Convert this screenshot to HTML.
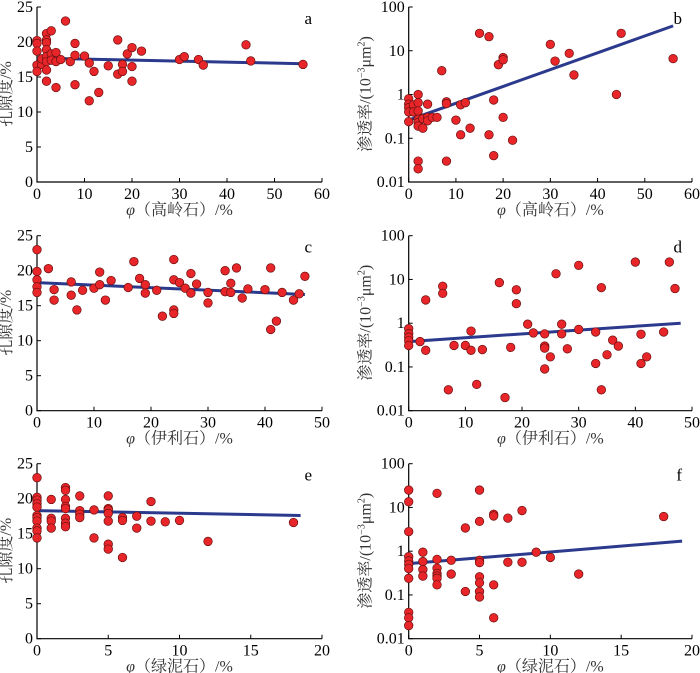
<!DOCTYPE html>
<html><head><meta charset="utf-8"><style>
body{margin:0;background:#fff;}
svg{display:block;font-family:"Liberation Serif","Noto Serif CJK SC",serif;}
</style></head><body>
<svg id="chart" width="700" height="673" viewBox="0 0 700 673"></svg>
<script>
const aX=[0,0,0,0,0,1,1,2,2,2,2,2,2,2,2,3,3,3,4,4,4,5,6,7,8,8,8,10,11,11,12,13,15,17,17,18,18,19,20,20,20,22,30,31,34,35,44,45,56];
const aY=[20.2,19.8,18.7,16.7,15.8,16.8,17.6,21.2,20.3,19.9,18.9,17.9,17.2,16,14.4,21.6,18.3,17.4,18.5,17.2,13.5,17.5,23,17.2,19.8,18.1,13.9,18,17,11.6,15.8,12.8,16.6,20.3,15.4,16.8,15.8,18.3,19.2,16.5,14.4,18.7,17.5,17.9,17.5,16.7,19.6,17.3,16.8];
const aFit=[[0,17.7],[56,16.9]];
const bX=[0,0,0,0,0,1,1,2,2,2,2,2,2,2,2,3,3,4,4,4,5,6,7,8,8,8,10,11,11,12,13,15,17,17,18,18,19,20,20,20,22,30,31,34,35,44,45,56];
const bY=[0.8,0.6,0.5,0.4,0.24,0.58,0.4,1.0,0.65,0.42,0.27,0.23,0.19,0.03,0.02,0.28,0.17,0.6,0.3,0.25,0.3,0.3,3.5,0.68,0.62,0.03,0.26,0.58,0.12,0.65,0.17,25,21,0.12,0.75,0.04,4.8,7,6.2,0.3,0.09,14,5.8,8.7,2.8,1.0,25,6.6];
const bFit=[[0,0.26],[56,37]];
const cX=[0,0,0,0,0,2,3,3,6,6,7,8,10,11,11,12,13,16,17,18,19,19,21,22,24,24,24,24,25,26,27,27,28,30,30,33,33,34,34,35,36,37,40,41,41,42,43,45,46,47];
const cY=[23,19.9,18.7,17.7,16.9,20.3,17.3,15.8,18.4,16.5,14.4,17.2,17.5,19.8,18,15.8,18.6,17.6,21.3,18.9,18,16.8,17.2,13.5,21.6,18.7,14.4,13.9,18.3,17.5,19.6,16.8,18.1,16.9,15.4,20,17,18.2,16.9,20.4,16.1,17.4,17.3,20.4,11.6,12.8,16.9,15.8,16.7,19.2];
const cFit=[[0,18.3],[47,16.6]];
const dX=[0,0,0,0,0,2,3,3,6,6,7,8,10,11,11,12,13,16,17,18,19,19,21,22,24,24,24,24,25,26,27,27,28,30,30,33,33,34,34,35,36,37,40,41,41,42,45,46,47];
const dY=[0.75,0.58,0.48,0.4,0.31,0.38,3.4,0.24,7,4.8,0.03,0.31,0.31,0.66,0.24,0.04,0.25,8.5,0.02,0.28,5.8,2.8,0.95,0.6,0.57,0.3,0.27,0.09,0.17,13.5,0.95,0.57,0.26,21,0.72,0.63,0.12,6.5,0.03,0.19,0.41,0.3,25,0.56,0.12,0.17,0.63,25,6.2];
const dFit=[[0,0.38],[48,1.0]];
const eX=[0,0,0,0,0,0,0,0,0,0,0,1,1,1,1,2,2,2,2,2,2,2,2,3,3,3,3,4,4,5,5,5,5,5,5,5,6,6,6,7,7,8,8,9,10,12,18];
const eY=[23,20.2,19.8,19.3,18.8,17.6,17.3,16.8,15.8,15.4,14.4,19.9,17.2,16.8,15.8,21.6,21.2,19.9,18.9,18.6,17.2,16.5,16,20.4,18.3,17.8,17.3,18.4,14.4,20.4,18.6,18.4,17.9,16.8,13.5,12.8,17.3,16.9,11.6,17.5,15.8,19.6,16.8,16.7,16.9,13.9,16.6];
const eFit=[[0,18.3],[18.5,17.6]];
const fX=[0,0,0,0,0,0,0,0,0,0,0,1,1,1,1,2,2,2,2,2,2,2,3,3,4,4,5,5,5,5,5,5,5,5,6,6,6,6,7,7,8,8,9,10,12,18];
const fY=[25,13.5,2.8,0.75,0.6,0.5,0.4,0.24,0.04,0.03,0.02,0.95,0.58,0.38,0.27,21,0.65,0.41,0.31,0.27,0.24,0.17,0.62,0.3,3.4,0.12,25,4.8,0.62,0.55,0.26,0.19,0.12,0.09,7,6.4,0.17,0.03,5.7,0.56,8.5,0.56,0.95,0.72,0.3,6.2];
const fFit=[[0,0.52],[19.3,1.7]];
const linTicks=["0","5","10","15","20","25"];
const logTicks=["0.01","0.1","1","10","100"];
const xTicks60=["0","10","20","30","40","50","60"];
const xTicks50=["0","10","20","30","40","50"];
const xTicks20=["0","5","10","15","20"];

const NS="http://www.w3.org/2000/svg";
const svg=document.getElementById('chart');
function mk(tag,attrs,parent){const e=document.createElementNS(NS,tag);for(const k in attrs)e.setAttribute(k,attrs[k]);(parent||svg).appendChild(e);return e;}

function panel(p){
  const g=mk('g',{});
  
  
  const xmax=+p.xt[p.xt.length-1];
  const sx=v=>p.x0+v/xmax*p.w;
  const sy=p.log?(v=>p.y0-(Math.log10(v)+2)/4*175):(v=>p.y0-v/25*175);
  const ax=mk('path',{d:`M${p.x0},${p.y0-175}V${p.y0}H${p.x0+p.w}`,stroke:'#000','stroke-width':1.2,fill:'none'},g);
  
  
  p.xt.forEach(t=>{const x=sx(+t);
    mk('line',{x1:x,x2:x,y1:p.y0,y2:p.y0-4,stroke:'#000'},g);
    const tx=mk('text',{x:x,y:p.y0+17,'text-anchor':'middle','font-size':16},g);tx.textContent=t;
    
    });
  p.yt.forEach(t=>{const y=sy(+t);
    mk('line',{x1:p.x0,x2:p.x0+4,y1:y,y2:y,stroke:'#000'},g);
    const tx=mk('text',{x:p.x0-4,y:y+5,'text-anchor':'end','font-size':16},g);tx.textContent=t;
    
    });
  const f=p.fit;
  const ln=mk('line',{x1:sx(f[0][0]),y1:sy(f[0][1]),x2:sx(f[1][0]),y2:sy(f[1][1]),stroke:'#2b3a8c','stroke-width':3},g);
  
  
  p.xs.forEach((v,i)=>{const c=mk('circle',{cx:sx(v),cy:sy(p.ys[i]),r:4.3,fill:'#e8262a',stroke:'#6a1010','stroke-width':0.7},g);
    
    });
  const lt=mk('text',{x:p.x0+p.w-10,y:p.y0-158,'font-size':17,'text-anchor':'end'},g);lt.textContent=p.letter;
  
  
  const xt=mk('text',{x:p.x0+p.w/2,y:p.y0+33,'text-anchor':'middle','font-size':16,fill:'#333'},g);
  xt.innerHTML='<tspan font-style="italic">φ</tspan>（'+p.mineral+'）/%';
  
  
  const cy=p.y0-88, cx=p.x0-(p.log?38:26);
  const yt=mk('text',{x:cx,y:cy,'text-anchor':'middle','font-size':16,fill:'#333',transform:`rotate(-90 ${cx} ${cy})`},g);
  yt.innerHTML=p.log?'渗透率/(10<tspan font-size="10" dy="-6">−3</tspan><tspan dy="6">μm</tspan><tspan font-size="10" dy="-6">2</tspan><tspan dy="6">)</tspan>':'孔隙度/%';
  
  
}
const L=37,R=408.7,WL=285,WR=283.3;
panel({letter:'a',x0:L,y0:182,w:WL,xt:xTicks60,yt:linTicks,log:false,xs:aX,ys:aY,fit:aFit,mineral:'高岭石'});
panel({letter:'b',x0:R,y0:182,w:WR,xt:xTicks60,yt:logTicks,log:true,xs:bX,ys:bY,fit:bFit,mineral:'高岭石'});
panel({letter:'c',x0:L,y0:410.7,w:WL,xt:xTicks50,yt:linTicks,log:false,xs:cX,ys:cY,fit:cFit,mineral:'伊利石'});
panel({letter:'d',x0:R,y0:410.7,w:WR,xt:xTicks50,yt:logTicks,log:true,xs:dX,ys:dY,fit:dFit,mineral:'伊利石'});
panel({letter:'e',x0:L,y0:638.7,w:WL,xt:xTicks20,yt:linTicks,log:false,xs:eX,ys:eY,fit:eFit,mineral:'绿泥石'});
panel({letter:'f',x0:R,y0:638.7,w:WR,xt:xTicks20,yt:logTicks,log:true,xs:fX,ys:fY,fit:fFit,mineral:'绿泥石'});
</script>
</body></html>
